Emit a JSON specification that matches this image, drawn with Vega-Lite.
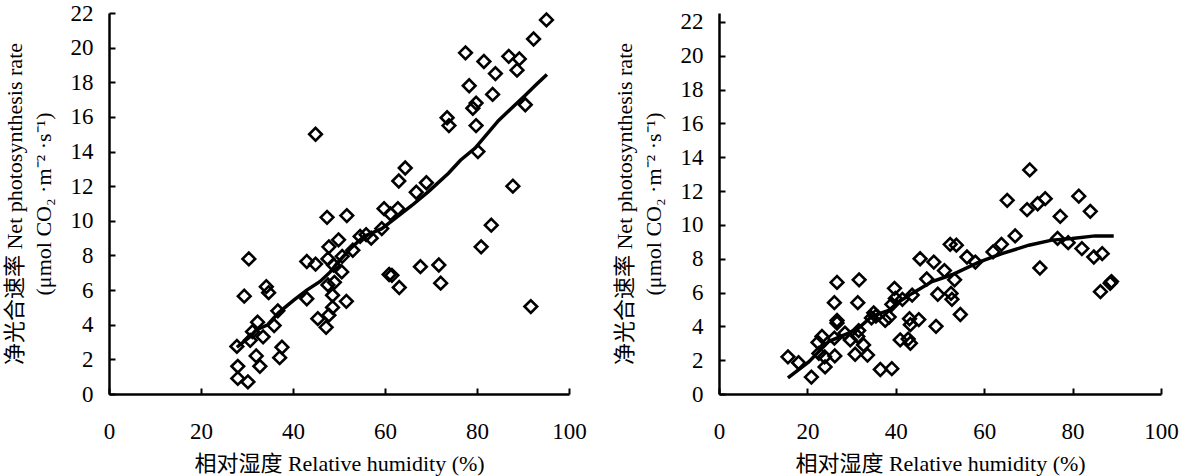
{
  "$schema": "https://vega.github.io/schema/vega-lite/v6.json",
  "padding": {"left": 3, "top": 2, "right": 5, "bottom": 5},
  "background": "white",
  "spacing": 150,
  "bounds": "flush",
  "datasets": {
    "helinger": [
      {"rh":28.0,"pn":0.9},{"rh":30.2,"pn":0.7},{"rh":28.0,"pn":1.6},{"rh":32.8,"pn":1.6},{"rh":32.0,"pn":2.2},{"rh":37.1,"pn":2.1},{"rh":37.6,"pn":2.7},{"rh":27.8,"pn":2.75},{"rh":30.7,"pn":3.1},{"rh":31.2,"pn":3.6},
      {"rh":32.3,"pn":4.15},{"rh":35.9,"pn":3.95},{"rh":36.7,"pn":4.8},{"rh":29.4,"pn":5.65},{"rh":30.4,"pn":7.8},{"rh":34.2,"pn":6.2},{"rh":34.7,"pn":5.85},{"rh":43.0,"pn":7.65},{"rh":44.9,"pn":7.5},{"rh":43.0,"pn":5.5},
      {"rh":45.4,"pn":4.35},{"rh":47.2,"pn":3.85},{"rh":47.8,"pn":4.55},{"rh":48.6,"pn":5.0},{"rh":48.6,"pn":5.7},{"rh":47.6,"pn":6.3},{"rh":49.0,"pn":6.45},{"rh":50.6,"pn":7.05},{"rh":48.8,"pn":7.45},{"rh":47.6,"pn":7.8},
      {"rh":50.7,"pn":7.95},{"rh":47.8,"pn":8.5},{"rh":49.9,"pn":8.9},{"rh":51.6,"pn":5.35},{"rh":54.6,"pn":9.1},{"rh":55.9,"pn":9.2},{"rh":47.4,"pn":10.2},{"rh":51.7,"pn":10.3},{"rh":44.9,"pn":15.0},{"rh":59.3,"pn":9.55},
      {"rh":59.8,"pn":10.7},{"rh":61.2,"pn":10.4},{"rh":62.8,"pn":10.7},{"rh":60.9,"pn":6.9},{"rh":61.5,"pn":6.85},{"rh":63.1,"pn":6.15},{"rh":67.7,"pn":7.35},{"rh":71.7,"pn":7.45},{"rh":72.1,"pn":6.4},{"rh":63.0,"pn":12.3},
      {"rh":64.4,"pn":13.05},{"rh":66.8,"pn":11.65},{"rh":69.0,"pn":12.2},{"rh":73.9,"pn":15.5},{"rh":73.5,"pn":15.95},{"rh":79.8,"pn":15.5},{"rh":80.2,"pn":14.0},{"rh":80.9,"pn":8.5},{"rh":83.1,"pn":9.75},{"rh":87.8,"pn":12.0},
      {"rh":91.7,"pn":5.05},{"rh":79.1,"pn":16.5},{"rh":79.8,"pn":16.8},{"rh":83.4,"pn":17.3},{"rh":78.3,"pn":17.8},{"rh":84.0,"pn":18.5},{"rh":88.7,"pn":18.7},{"rh":89.2,"pn":19.35},{"rh":86.9,"pn":19.5},{"rh":81.5,"pn":19.2},
      {"rh":77.5,"pn":19.7},{"rh":92.3,"pn":20.5},{"rh":95.1,"pn":21.6},{"rh":90.5,"pn":16.7},{"rh":57.0,"pn":9.0},{"rh":53.0,"pn":8.3},{"rh":33.5,"pn":3.3}
    ],
    "helinger_fit": [
      {"rh":27.8,"pn":2.7},{"rh":30.6,"pn":3.3},{"rh":32.0,"pn":3.7},{"rh":34.5,"pn":4.0},{"rh":36.9,"pn":4.7},{"rh":40.1,"pn":5.4},{"rh":43.0,"pn":6.0},{"rh":45.9,"pn":6.5},{"rh":48.1,"pn":7.05},{"rh":49.6,"pn":7.55},{"rh":52.5,"pn":8.4},{"rh":55.4,"pn":9.1},{"rh":59.3,"pn":9.55},{"rh":62.0,"pn":10.1},{"rh":65.9,"pn":10.9},{"rh":69.5,"pn":11.7},{"rh":73.8,"pn":12.75},{"rh":76.4,"pn":13.5},{"rh":79.6,"pn":14.2},{"rh":84.7,"pn":15.8},{"rh":87.5,"pn":16.5},{"rh":90.5,"pn":17.25},{"rh":93.0,"pn":17.9},{"rh":95.2,"pn":18.45}
    ],
    "alashan": [
      {"rh":15.6,"pn":2.2},{"rh":18.0,"pn":1.85},{"rh":20.9,"pn":1.0},{"rh":22.4,"pn":3.05},{"rh":23.3,"pn":3.4},{"rh":22.6,"pn":2.4},{"rh":23.9,"pn":2.2},{"rh":24.0,"pn":1.6},{"rh":26.1,"pn":3.3},{"rh":26.2,"pn":2.25},
      {"rh":26.7,"pn":4.35},{"rh":26.7,"pn":4.2},{"rh":26.1,"pn":5.4},{"rh":26.7,"pn":6.6},{"rh":29.7,"pn":3.2},{"rh":31.4,"pn":3.4},{"rh":30.8,"pn":2.35},{"rh":32.7,"pn":2.9},{"rh":33.6,"pn":2.3},{"rh":31.6,"pn":3.75},
      {"rh":31.4,"pn":5.4},{"rh":31.7,"pn":6.75},{"rh":35.0,"pn":4.8},{"rh":36.5,"pn":1.45},{"rh":39.1,"pn":1.5},{"rh":37.6,"pn":4.35},{"rh":38.5,"pn":4.55},{"rh":39.7,"pn":6.25},{"rh":39.9,"pn":5.65},{"rh":39.1,"pn":5.3},
      {"rh":41.0,"pn":3.2},{"rh":43.3,"pn":3.0},{"rh":42.8,"pn":3.25},{"rh":43.3,"pn":4.1},{"rh":43.1,"pn":4.45},{"rh":45.2,"pn":4.4},{"rh":43.7,"pn":5.85},{"rh":45.5,"pn":8.0},{"rh":48.6,"pn":7.8},{"rh":51.0,"pn":7.3},
      {"rh":49.1,"pn":4.0},{"rh":49.5,"pn":5.9},{"rh":52.5,"pn":5.95},{"rh":52.7,"pn":5.6},{"rh":52.3,"pn":8.85},{"rh":53.7,"pn":8.8},{"rh":56.1,"pn":8.1},{"rh":53.3,"pn":6.75},{"rh":54.6,"pn":4.7},{"rh":63.9,"pn":8.85},
      {"rh":67.0,"pn":9.35},{"rh":72.6,"pn":7.45},{"rh":76.6,"pn":9.2},{"rh":79.0,"pn":8.95},{"rh":82.1,"pn":8.6},{"rh":84.8,"pn":8.1},{"rh":86.7,"pn":8.3},{"rh":86.3,"pn":6.05},{"rh":88.5,"pn":6.55},{"rh":88.8,"pn":6.65},
      {"rh":70.3,"pn":13.25},{"rh":65.2,"pn":11.45},{"rh":73.8,"pn":11.55},{"rh":72.1,"pn":11.25},{"rh":69.7,"pn":10.9},{"rh":81.4,"pn":11.7},{"rh":84.0,"pn":10.8},{"rh":77.2,"pn":10.5},{"rh":28.5,"pn":3.6},{"rh":34.5,"pn":4.5},
      {"rh":41.5,"pn":5.6},{"rh":47.0,"pn":6.8},{"rh":58.0,"pn":7.8},{"rh":62.0,"pn":8.4},{"rh":35.5,"pn":4.6}
    ],
    "alashan_fit": [
      {"rh":15.6,"pn":0.95},{"rh":20.3,"pn":1.9},{"rh":24.8,"pn":3.1},{"rh":29.3,"pn":3.6},{"rh":31.6,"pn":3.9},{"rh":34.6,"pn":4.6},{"rh":38.4,"pn":4.95},{"rh":40.7,"pn":5.45},{"rh":43.7,"pn":5.95},{"rh":48.2,"pn":6.65},{"rh":52.7,"pn":7.05},{"rh":58.8,"pn":7.8},{"rh":64.0,"pn":8.3},{"rh":70.1,"pn":8.8},{"rh":75.3,"pn":9.1},{"rh":79.9,"pn":9.2},{"rh":85.1,"pn":9.35},{"rh":89.3,"pn":9.35}
    ]
  },
  "config": {
    "font": "Liberation Serif, Noto Sans CJK SC, serif",
    "view": {"stroke": null},
    "axis": {
      "grid": false,
      "labelFont": "Liberation Serif, Noto Sans CJK SC, serif",
      "labelFontSize": 23,
      "labelColor": "black",
      "labelFlush": false,
      "labelOverlap": false,
      "titleFont": "Liberation Serif, Noto Sans CJK SC, serif",
      "titleFontSize": 22,
      "titleFontWeight": "normal",
      "titleColor": "black",
      "domainColor": "black",
      "domainWidth": 2.5,
      "tickColor": "black",
      "tickWidth": 2,
      "tickSize": -6
    },
    "axisX": {"labelPadding": 32, "titlePadding": 10},
    "axisY": {"labelPadding": 22, "titlePadding": 15, "titleLineHeight": 29}
  },
  "hconcat": [
    {
      "width": 460,
      "height": 381,
      "layer": [
        {
          "data": {"name": "helinger"},
          "mark": {"type": "point", "shape": "diamond", "filled": false, "size": 160, "stroke": "black", "strokeWidth": 2.6, "opacity": 1},
          "encoding": {
            "x": {"field": "rh", "type": "quantitative", "scale": {"domain": [0, 100], "nice": false}, "axis": {"values": [0, 20, 40, 60, 80, 100], "tickCount": 12, "labelOverlap": false, "labelFlush": false, "tickSize": -6, "title": "相对湿度 Relative humidity (%)"}},
            "y": {"field": "pn", "type": "quantitative", "scale": {"domain": [0, 22], "nice": false}, "axis": {"values": [0, 2, 4, 6, 8, 10, 12, 14, 16, 18, 20, 22], "tickCount": 24, "labelOverlap": false, "labelFlush": false, "tickSize": -6, "title": ["净光合速率 Net photosynthesis rate", "(μmol CO₂ ·m⁻² ·s⁻¹)"]}}
          }
        },
        {
          "data": {"name": "helinger_fit"},
          "mark": {"type": "line", "color": "black", "strokeWidth": 3.5},
          "encoding": {"x": {"field": "rh", "type": "quantitative"}, "y": {"field": "pn", "type": "quantitative"}}
        },
        {"mark": {"type": "text", "text": "和林格尔 Helinger", "fontSize": 22, "align": "center", "baseline": "alphabetic", "color": "black"}, "encoding": {"x": {"datum": 43.7}, "y": {"datum": 21.42}}},
        {"mark": {"type": "text", "text": "R", "fontSize": 22, "fontStyle": "italic", "align": "left", "baseline": "alphabetic", "color": "black"}, "encoding": {"x": {"datum": 16.96}, "y": {"datum": 19.23}}},
        {"mark": {"type": "text", "text": "2", "fontSize": 14, "align": "left", "baseline": "alphabetic", "color": "black"}, "encoding": {"x": {"datum": 20.87}, "y": {"datum": 19.86}}},
        {"mark": {"type": "text", "text": "=", "fontSize": 22, "align": "left", "baseline": "alphabetic", "color": "black"}, "encoding": {"x": {"datum": 26.09}, "y": {"datum": 19.23}}},
        {"mark": {"type": "text", "text": "0.682 2", "fontSize": 22, "align": "left", "baseline": "alphabetic", "color": "black"}, "encoding": {"x": {"datum": 30.43}, "y": {"datum": 19.23}}},
        {"mark": {"type": "text", "text": "p", "fontSize": 22, "fontStyle": "italic", "align": "left", "baseline": "alphabetic", "color": "black"}, "encoding": {"x": {"datum": 14.78}, "y": {"datum": 17.67}}},
        {"mark": {"type": "text", "text": "<0.001", "fontSize": 22, "align": "left", "baseline": "alphabetic", "color": "black"}, "encoding": {"x": {"datum": 17.17}, "y": {"datum": 17.67}}},
        {"mark": {"type": "text", "text": "n", "fontSize": 22, "fontStyle": "italic", "align": "left", "baseline": "alphabetic", "color": "black"}, "encoding": {"x": {"datum": 35.87}, "y": {"datum": 17.67}}},
        {"mark": {"type": "text", "text": "=77", "fontSize": 22, "align": "left", "baseline": "alphabetic", "color": "black"}, "encoding": {"x": {"datum": 38.04}, "y": {"datum": 17.67}}}
      ]
    },
    {
      "width": 442,
      "height": 381,
      "layer": [
        {
          "data": {"name": "alashan"},
          "mark": {"type": "point", "shape": "diamond", "filled": false, "size": 160, "stroke": "black", "strokeWidth": 2.6, "opacity": 1},
          "encoding": {
            "x": {"field": "rh", "type": "quantitative", "scale": {"domain": [0, 100], "nice": false}, "axis": {"values": [0, 20, 40, 60, 80, 100], "tickCount": 12, "labelOverlap": false, "labelFlush": false, "tickSize": -6, "title": "相对湿度 Relative humidity (%)"}},
            "y": {"field": "pn", "type": "quantitative", "scale": {"domain": [0, 22.53], "nice": false}, "axis": {"values": [0, 2, 4, 6, 8, 10, 12, 14, 16, 18, 20, 22], "tickCount": 24, "labelOverlap": false, "labelFlush": false, "tickSize": -6, "title": ["净光合速率 Net photosynthesis rate", "(μmol CO₂ ·m⁻² ·s⁻¹)"]}}
          }
        },
        {
          "data": {"name": "alashan_fit"},
          "mark": {"type": "line", "color": "black", "strokeWidth": 3.5},
          "encoding": {"x": {"field": "rh", "type": "quantitative"}, "y": {"field": "pn", "type": "quantitative"}}
        },
        {"mark": {"type": "text", "text": "阿拉善 Alashan", "fontSize": 22, "align": "center", "baseline": "alphabetic", "color": "black"}, "encoding": {"x": {"datum": 38.1}, "y": {"datum": 21.7}}},
        {"mark": {"type": "text", "text": "R", "fontSize": 22, "fontStyle": "italic", "align": "left", "baseline": "alphabetic", "color": "black"}, "encoding": {"x": {"datum": 23.3}, "y": {"datum": 17.47}}},
        {"mark": {"type": "text", "text": "2", "fontSize": 14, "align": "left", "baseline": "alphabetic", "color": "black"}, "encoding": {"x": {"datum": 27.83}, "y": {"datum": 17.86}}},
        {"mark": {"type": "text", "text": "=", "fontSize": 22, "align": "left", "baseline": "alphabetic", "color": "black"}, "encoding": {"x": {"datum": 31.67}, "y": {"datum": 17.47}}},
        {"mark": {"type": "text", "text": "0.620 8", "fontSize": 22, "align": "left", "baseline": "alphabetic", "color": "black"}, "encoding": {"x": {"datum": 37.33}, "y": {"datum": 17.47}}},
        {"mark": {"type": "text", "text": "p", "fontSize": 22, "fontStyle": "italic", "align": "left", "baseline": "alphabetic", "color": "black"}, "encoding": {"x": {"datum": 21.72}, "y": {"datum": 15.91}}},
        {"mark": {"type": "text", "text": "<0.001", "fontSize": 22, "align": "left", "baseline": "alphabetic", "color": "black"}, "encoding": {"x": {"datum": 23.98}, "y": {"datum": 15.91}}},
        {"mark": {"type": "text", "text": "n", "fontSize": 22, "fontStyle": "italic", "align": "left", "baseline": "alphabetic", "color": "black"}, "encoding": {"x": {"datum": 43.21}, "y": {"datum": 15.91}}},
        {"mark": {"type": "text", "text": "=75", "fontSize": 22, "align": "left", "baseline": "alphabetic", "color": "black"}, "encoding": {"x": {"datum": 45.48}, "y": {"datum": 15.91}}}
      ]
    }
  ]
}
